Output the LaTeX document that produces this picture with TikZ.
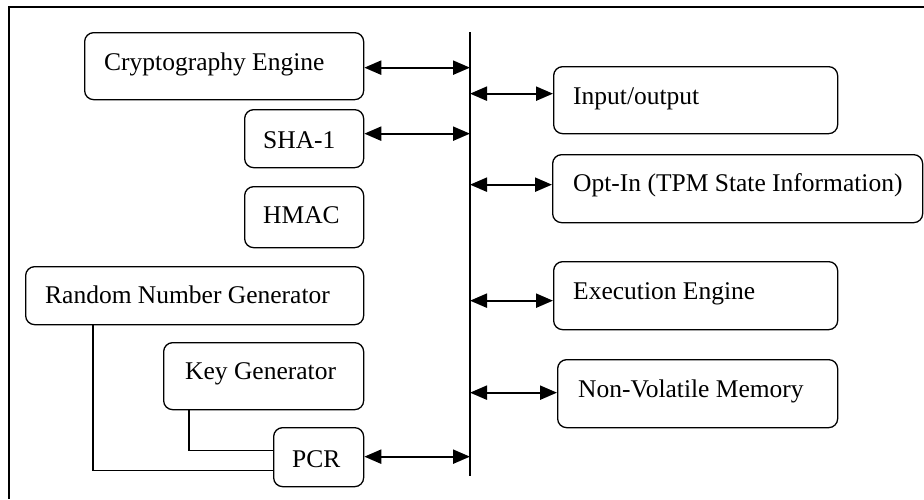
\documentclass[tikz,border=0pt]{standalone}
\usepackage{fontspec}
\setmainfont{Liberation Serif}
\usetikzlibrary{arrows.meta,calc}
\tikzset{
  box/.style={draw, line width=1.3pt, rounded corners=9pt, inner sep=0pt, anchor=north west},
  lbl/.style={anchor=base west, inner sep=0pt, font=\fontsize{25.5}{30}\selectfont},
  arr/.style={line width=2.2pt, {Triangle[length=17pt,width=14pt]}-{Triangle[length=17pt,width=14pt]}},
  wire/.style={line width=1.2pt}
}
\begin{document}
\begin{tikzpicture}[x=1pt,y=-1pt]
\useasboundingbox (0,0) rectangle (924,499);
% outer frame (cropped: top and left edges only)
\draw[line width=1.5pt] (924,7) -- (9,7) -- (9,499);
% bus
\coordinate (bt) at (470,32);
\coordinate (bb) at (470,476);
\draw[line width=1.5pt] (bt) -- (bb);
% left boxes
\node[box, minimum width=279pt, minimum height=67pt] (ce) at (84,32) {};
\node[lbl] (cet) at (104,70) {Cryptography Engine};
\node[box, minimum width=119pt, minimum height=58pt] (sha) at (244,109) {};
\node[lbl] (shat) at (263,148) {SHA-1};
\node[box, minimum width=119pt, minimum height=61pt] (hmac) at (244,186) {};
\node[lbl] (hmact) at (263,223) {HMAC};
\node[box, minimum width=338pt, minimum height=58pt] (rng) at (25,266) {};
\node[lbl] (rngt) at (45,303) {Random Number Generator};
\node[box, minimum width=200pt, minimum height=67pt] (kg) at (163,342) {};
\node[lbl] (kgt) at (185,379) {Key Generator};
\node[box, minimum width=90pt, minimum height=59pt] (pcr) at (273,427) {};
\node[lbl] (pcrt) at (292,467) {PCR};
% right boxes
\node[box, minimum width=284pt, minimum height=67pt] (io) at (553,66) {};
\node[lbl] (iot) at (573,104) {Input/output};
\node[box, minimum width=370pt, minimum height=68pt] (opt) at (552,154) {};
\node[lbl] (optt) at (573,191.5) {Opt-In (TPM State Information)};
\node[box, minimum width=284pt, minimum height=68pt] (ex) at (553,261) {};
\node[lbl] (ext) at (573,299) {Execution Engine};
\node[box, minimum width=280pt, minimum height=68pt] (nvm) at (557,359) {};
\node[lbl] (nvmt) at (578,397) {Non-Volatile Memory};
% arrows
\draw[arr] ([yshift=-1.5pt]ce.east) -- ([yshift=-1.5pt]ce.east -| bt);
\draw[arr] ([yshift=5pt]sha.east) -- ([yshift=5pt]sha.east -| bt);
\draw[arr] ([yshift=0.5pt]pcr.east) -- ([yshift=0.5pt]pcr.east -| bt);
\draw[arr] ([yshift=6.5pt]io.west -| bt) -- ([yshift=6.5pt]io.west);
\draw[arr] ([yshift=4pt]opt.west -| bt) -- ([yshift=4pt]opt.west);
\draw[arr] ([yshift=-5pt]ex.west -| bt) -- ([yshift=-5pt]ex.west);
\draw[arr] ([yshift=1pt]nvm.west -| bt) -- ([yshift=1pt]nvm.west);
% wires to PCR
\draw[wire] ($(rng.south west)+(68,0)$) |- ($(pcr.south west)+(0,-17)$);
\draw[wire] ($(kg.south west)+(26,0)$) |- ($(pcr.south west)+(0,-37)$);
\end{tikzpicture}
\end{document}
